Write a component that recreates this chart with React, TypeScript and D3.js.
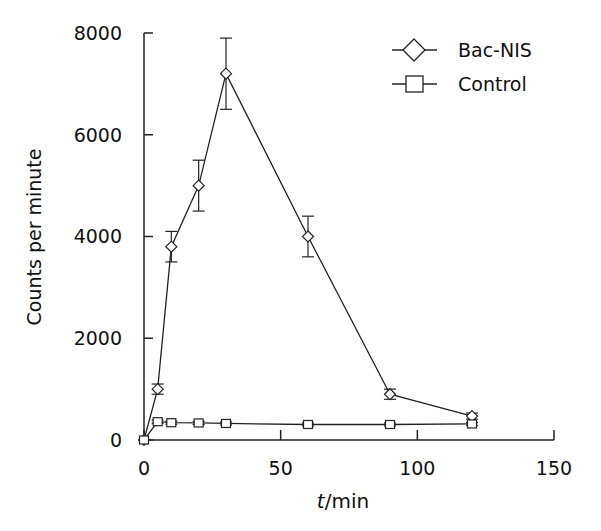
import React from 'react';
import * as d3 from 'd3';

const times = [0, 5, 10, 20, 30, 60, 90, 120];
const bacNis = [0, 1000, 3800, 5000, 7200, 4000, 900, 470];
const bacNisErr = [0, 100, 300, 500, 700, 400, 100, 60];
const control = [0, 360, 340, 335, 325, 305, 305, 315];
const controlErr = [0, 30, 30, 30, 30, 30, 30, 30];
const xTicks = [0, 50, 100, 150];
const yTicks = [0, 2000, 4000, 6000, 8000];

const width = 601;
const height = 531;
const font = '"DejaVu Sans", Verdana, sans-serif';
const fs = 19;

export default function App() {
  const x = d3.scaleLinear().domain([0, 150]).range([144, 554]);
  const y = d3.scaleLinear().domain([0, 8000]).range([440, 33]);

  const line = d3
    .line<number>()
    .x((_, i) => x(times[i]))
    .y((d) => y(d));

  const diamond = (cx: number, cy: number, r: number) =>
    `M${cx},${cy - r}L${cx + r},${cy}L${cx},${cy + r}L${cx - r},${cy}Z`;

  const errBars = (vals: number[], errs: number[], key: string) =>
    vals.map((v, i) =>
      errs[i] > 0 ? (
        <g key={key + i} stroke="#222" strokeWidth={1.2}>
          <line x1={x(times[i])} x2={x(times[i])} y1={y(v + errs[i])} y2={y(v - errs[i])} />
          <line x1={x(times[i]) - 6} x2={x(times[i]) + 6} y1={y(v + errs[i])} y2={y(v + errs[i])} />
          <line x1={x(times[i]) - 6} x2={x(times[i]) + 6} y1={y(v - errs[i])} y2={y(v - errs[i])} />
        </g>
      ) : null
    );

  return (
    <svg
      width={width}
      height={height}
      style={{ position: 'absolute', left: 0, top: 0, background: '#fff' }}
      fontFamily={font}
    >
      {/* axes */}
      <g stroke="#222" strokeWidth={1.5} fill="none">
        <line x1={x(0)} x2={x(0)} y1={y(0)} y2={y(8000)} />
        <line x1={x(0)} x2={x(150)} y1={y(0)} y2={y(0)} />
        {yTicks.map((t) => (
          <line key={'yt' + t} x1={x(0)} x2={x(0) + 9} y1={y(t)} y2={y(t)} />
        ))}
        {xTicks.map((t) => (
          <line key={'xt' + t} x1={x(t)} x2={x(t)} y1={y(0)} y2={y(0) - 10} />
        ))}
      </g>
      {yTicks.map((t) => (
        <text key={'yl' + t} x={122} y={y(t)} dy="0.36em" textAnchor="end" fontSize={fs} fill="#111">
          {t}
        </text>
      ))}
      {xTicks.map((t) => (
        <text key={'xl' + t} x={x(t)} y={475} textAnchor="middle" fontSize={fs} fill="#111">
          {t}
        </text>
      ))}
      <text
        transform={`translate(41,237) rotate(-90)`}
        textAnchor="middle"
        fontSize={fs}
        fill="#111"
      >
        Counts per minute
      </text>
      <text x={343} y={508} textAnchor="middle" fontSize={fs + 1} fill="#111">
        <tspan fontStyle="italic">t</tspan>/min
      </text>

      {/* series */}
      {errBars(bacNis, bacNisErr, 'be')}
      {errBars(control, controlErr, 'ce')}
      <path d={line(bacNis) || ''} fill="none" stroke="#222" strokeWidth={1.3} />
      <path d={line(control) || ''} fill="none" stroke="#222" strokeWidth={1.3} />
      {bacNis.map((v, i) => (
        <path key={'bm' + i} d={diamond(x(times[i]), y(v), 5.5)} fill="#fff" stroke="#222" strokeWidth={1.2} />
      ))}
      {control.map((v, i) => (
        <rect
          key={'cm' + i}
          x={x(times[i]) - 4.5}
          y={y(v) - 4}
          width={9}
          height={8}
          fill="#fff"
          stroke="#222"
          strokeWidth={1.2}
        />
      ))}

      {/* legend */}
      <g stroke="#222" strokeWidth={1.3}>
        <line x1={392} x2={437} y1={50} y2={50} />
        <path d={diamond(414, 50, 11)} fill="#fff" />
        <line x1={392} x2={437} y1={84} y2={84} />
        <rect x={406} y={76} width={17} height={16} fill="#fff" />
      </g>
      <text x={458} y={50} dy="0.36em" fontSize={fs} fill="#111">
        Bac-NIS
      </text>
      <text x={458} y={84} dy="0.36em" fontSize={fs} fill="#111">
        Control
      </text>
    </svg>
  );
}
